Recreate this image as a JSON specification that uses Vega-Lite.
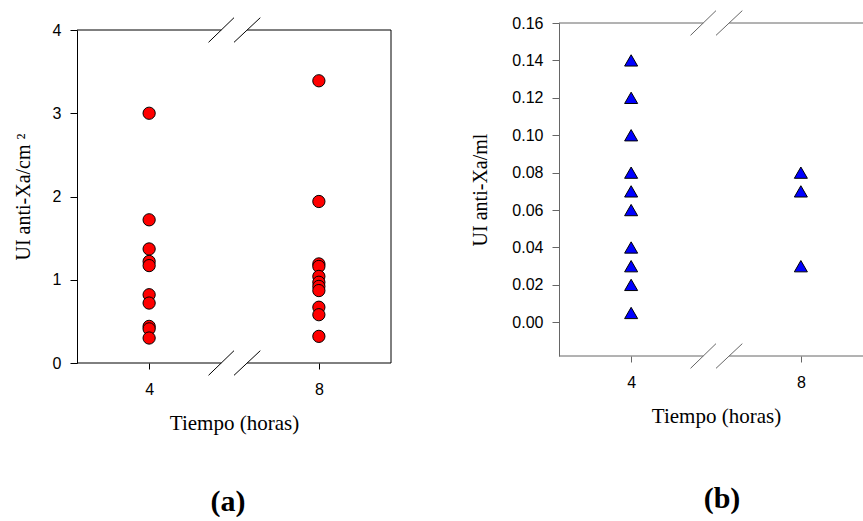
{
  "$schema": "https://vega.github.io/schema/vega-lite/v6.json",
  "background": "white",
  "padding": {"left": 13, "top": 10, "right": 0, "bottom": 0},
  "config": {
    "view": {"stroke": null},
    "axis": {
      "grid": false,
      "labelFont": "Liberation Sans",
      "labelFontSize": 16,
      "labelColor": "#000",
      "titleFont": "Liberation Serif",
      "titleFontSize": 21,
      "titleFontWeight": "normal",
      "titleColor": "#000"
    }
  },
  "datasets": {
    "a": [
      {"hora": 4, "ui": 3.0}, {"hora": 4, "ui": 1.72}, {"hora": 4, "ui": 1.37}, {"hora": 4, "ui": 1.22},
      {"hora": 4, "ui": 1.17}, {"hora": 4, "ui": 0.82}, {"hora": 4, "ui": 0.72}, {"hora": 4, "ui": 0.44},
      {"hora": 4, "ui": 0.41}, {"hora": 4, "ui": 0.30},
      {"hora": 8, "ui": 3.39}, {"hora": 8, "ui": 1.94}, {"hora": 8, "ui": 1.19}, {"hora": 8, "ui": 1.16},
      {"hora": 8, "ui": 1.04}, {"hora": 8, "ui": 0.97}, {"hora": 8, "ui": 0.92}, {"hora": 8, "ui": 0.87},
      {"hora": 8, "ui": 0.67}, {"hora": 8, "ui": 0.58}, {"hora": 8, "ui": 0.32}
    ],
    "b": [
      {"hora": 4, "ui": 0.14}, {"hora": 4, "ui": 0.12}, {"hora": 4, "ui": 0.10}, {"hora": 4, "ui": 0.08},
      {"hora": 4, "ui": 0.07}, {"hora": 4, "ui": 0.06}, {"hora": 4, "ui": 0.04}, {"hora": 4, "ui": 0.03},
      {"hora": 4, "ui": 0.02}, {"hora": 4, "ui": 0.005},
      {"hora": 8, "ui": 0.08}, {"hora": 8, "ui": 0.07}, {"hora": 8, "ui": 0.03}
    ],
    "frameA": [
      {"x": 2.3, "x2": 5.70, "y": 0, "y2": 0},
      {"x": 6.31, "x2": 9.7, "y": 0, "y2": 0},
      {"x": 2.3, "x2": 5.70, "y": 4, "y2": 4},
      {"x": 6.31, "x2": 9.7, "y": 4, "y2": 4},
      {"x": 9.7, "x2": 9.7, "y": 0, "y2": 4},
      {"x": 5.40, "x2": 6.00, "y": -0.148, "y2": 0.148},
      {"x": 6.00, "x2": 6.62, "y": -0.148, "y2": 0.148},
      {"x": 5.40, "x2": 6.00, "y": 3.852, "y2": 4.148},
      {"x": 6.00, "x2": 6.62, "y": 3.852, "y2": 4.148}
    ],
    "frameB": [
      {"x": 2.3, "x2": 5.70, "y": -0.018, "y2": -0.018},
      {"x": 6.31, "x2": 9.7, "y": -0.018, "y2": -0.018},
      {"x": 2.3, "x2": 5.70, "y": 0.16, "y2": 0.16},
      {"x": 6.31, "x2": 9.7, "y": 0.16, "y2": 0.16},
      {"x": 9.7, "x2": 9.7, "y": -0.018, "y2": 0.16},
      {"x": 5.40, "x2": 6.00, "y": -0.0246, "y2": -0.0114},
      {"x": 6.00, "x2": 6.62, "y": -0.0246, "y2": -0.0114},
      {"x": 5.40, "x2": 6.00, "y": 0.1534, "y2": 0.1666},
      {"x": 6.00, "x2": 6.62, "y": 0.1534, "y2": 0.1666}
    ]
  },
  "spacing": 78,
  "hconcat": [
    {
      "bounds": "flush",
      "spacing": 6,
      "vconcat": [
        {
          "width": 314,
          "height": 1,
          "data": {"values": [{}]},
          "mark": {"type": "rule", "strokeOpacity": 0, "opacity": 0},
          "encoding": {}
        },
        {
          "width": 314,
          "height": 333,
          "title": {"text": "(a)", "orient": "bottom", "anchor": "middle", "frame": "group", "font": "Liberation Serif", "fontSize": 30, "fontWeight": "bold", "color": "#000", "offset": 54, "dx": -6},
          "layer": [
            {
              "data": {"name": "frameA"},
              "mark": {"type": "rule", "color": "#000", "strokeWidth": 1, "clip": false},
              "encoding": {
                "x": {"field": "x", "type": "quantitative", "scale": {"domain": [2.3, 9.7], "nice": false, "zero": false},
                      "axis": {"values": [4, 8], "domain": false, "tickSize": 6, "tickColor": "#000", "labelPadding": 12, "title": "Tiempo (horas)", "titlePadding": 15}},
                "x2": {"field": "x2"},
                "y": {"field": "y", "type": "quantitative", "scale": {"domain": [0, 4], "nice": false, "zero": false},
                      "axis": {"values": [0, 1, 2, 3, 4], "format": "d", "domain": true, "domainColor": "#000", "tickSize": 7, "tickColor": "#000", "labelPadding": 9, "title": "UI anti-Xa/cm ²", "titleFontSize": 20, "titlePadding": 19}},
                "y2": {"field": "y2"}
              }
            },
            {
              "data": {"name": "a"},
              "mark": {"type": "point", "shape": "circle", "filled": true, "fill": "#FF0000", "stroke": "#000", "strokeWidth": 1, "size": 150, "opacity": 1},
              "encoding": {
                "x": {"field": "hora", "type": "quantitative", "title": "Tiempo (horas)"},
                "y": {"field": "ui", "type": "quantitative", "title": "UI anti-Xa/cm ²"}
              }
            }
          ]
        }
      ]
    },
    {
      "width": 314,
      "height": 333,
      "title": {"text": "(b)", "orient": "bottom", "anchor": "middle", "frame": "group", "font": "Liberation Serif", "fontSize": 30, "fontWeight": "bold", "color": "#000", "offset": 58, "dx": 6},
      "layer": [
        {
          "data": {"name": "frameB"},
          "mark": {"type": "rule", "color": "#666", "strokeWidth": 1, "clip": false},
          "encoding": {
            "x": {"field": "x", "type": "quantitative", "scale": {"domain": [2.3, 9.7], "nice": false, "zero": false},
                  "axis": {"values": [4, 8], "domain": false, "tickSize": 6, "tickColor": "#666", "labelPadding": 12, "title": "Tiempo (horas)", "titlePadding": 15}},
            "x2": {"field": "x2"},
            "y": {"field": "y", "type": "quantitative", "scale": {"domain": [-0.018, 0.16], "nice": false, "zero": false},
                  "axis": {"values": [0, 0.02, 0.04, 0.06, 0.08, 0.1, 0.12, 0.14, 0.16], "format": ".2f", "domain": true, "domainColor": "#666", "tickSize": 7, "tickColor": "#666", "labelPadding": 9, "title": "UI anti-Xa/ml", "titleFontSize": 20, "titlePadding": 21}},
            "y2": {"field": "y2"}
          }
        },
        {
          "data": {"name": "b"},
          "mark": {"type": "point", "shape": "triangle-up", "filled": true, "fill": "#0000FF", "stroke": "#000", "strokeWidth": 1, "size": 170, "opacity": 1},
          "encoding": {
            "x": {"field": "hora", "type": "quantitative", "title": "Tiempo (horas)"},
            "y": {"field": "ui", "type": "quantitative", "title": "UI anti-Xa/ml"}
          }
        }
      ]
    }
  ]
}
